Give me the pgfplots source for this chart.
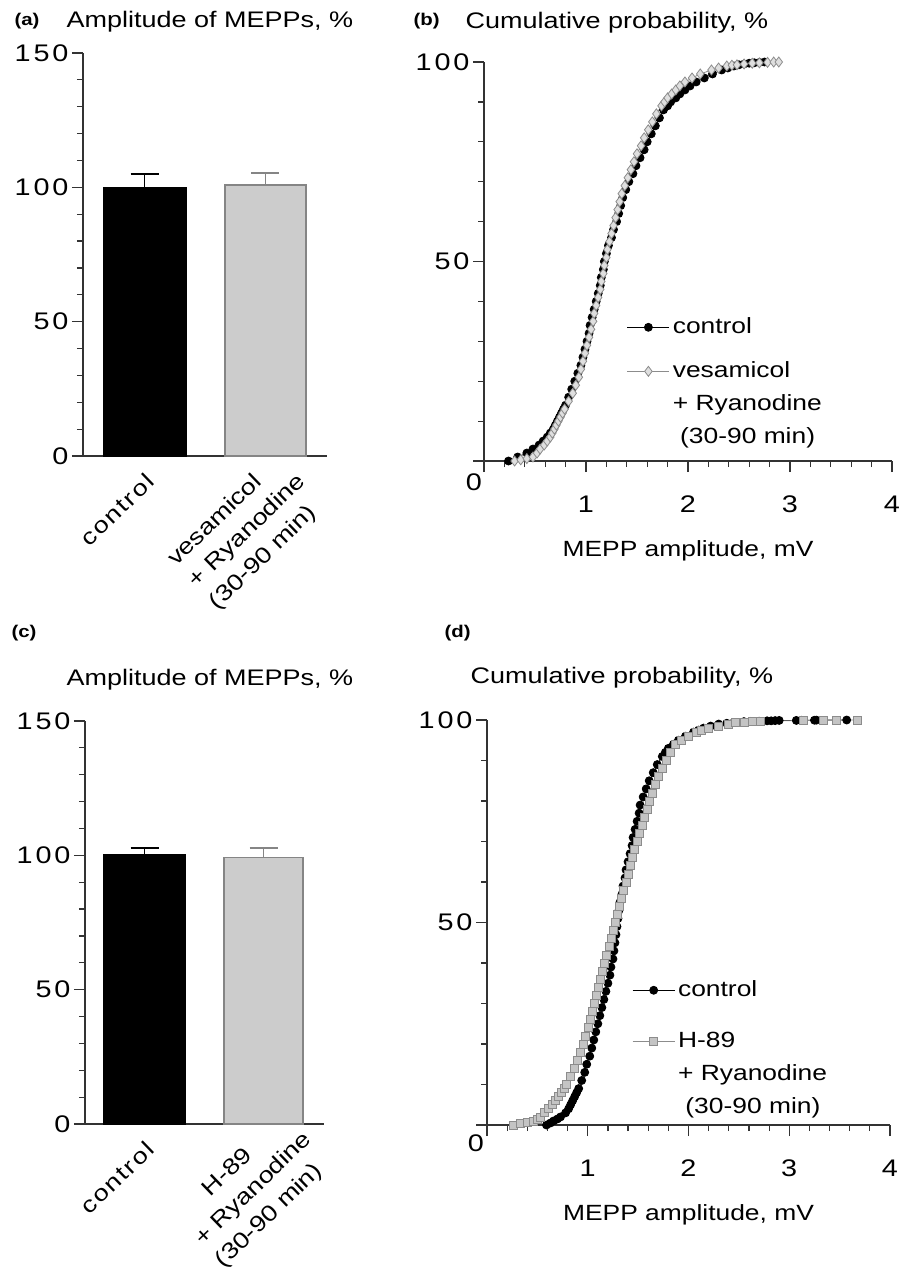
\documentclass[border=0pt]{standalone}
\usepackage{fontspec}
\setmainfont{Liberation Sans}[FakeStretch=1.2]
\newfontfamily\tickfont{Liberation Sans}[FakeStretch=1.2,LetterSpace=12]
\newfontfamily\catfont{Liberation Sans}[FakeStretch=1.2,LetterSpace=8]
\usepackage{pgfplots}
\pgfplotsset{compat=1.18}
\definecolor{barfill}{HTML}{CCCCCC}
\definecolor{baredge}{HTML}{858585}
\definecolor{axiscol}{HTML}{333333}
\definecolor{grayline}{HTML}{8C8C8C}
\definecolor{markfill}{HTML}{C4C4C4}

\pgfplotsset{
  panel/.style={
    scale only axis, axis lines*=left, clip=false,
    axis line style={axiscol, line width=1.3pt},
    tick align=outside, major tick length=11pt, minor tick length=6pt,
    every tick/.style={axiscol, line width=1.2pt},
    /pgf/number format/assume math mode=true,
    ticklabel style={font=\tickfont\fontsize{24}{26}\selectfont},
  },
  barpanel/.style={
    panel, ymin=0, ymax=150, ytick={0,50,100,150}, minor y tick num=4,
    xtick={0}, xticklabels={{\catfont control}}, xtick style={draw=none},
    xticklabel style={rotate=44, anchor=north east, align=left,
      font=\fontsize{22.5}{30}\selectfont},
    extra x ticks={1},
    extra x tick style={tick style={draw=none}},
  },
  cdfpanel/.style={
    panel, xmin=0, xmax=4, ymin=0, ymax=100,
    xtick={0,1,2,3,4}, xticklabels={,1,2,3,4}, minor x tick num=4,
    xticklabel style={yshift=-20pt},
    ytick={0,50,100}, yticklabels={,50,100}, minor y tick num=4,
    xlabel={MEPP amplitude, mV},
    xlabel style={font=\fontsize{22}{26}\selectfont, yshift=-21pt},
    legend cell align=left,
    legend style={draw=none, fill=none, inner sep=0pt, row sep=6pt,
      font=\fontsize{22}{26}\selectfont,
      nodes={inner xsep=3pt, inner ysep=2.5pt, text height=17pt, text depth=5pt}},
    legend image code/.code={
      \draw[mark repeat=2, mark phase=2, #1]
        plot coordinates {(0pt,0pt) (21pt,0pt) (42pt,0pt)};},
  },
  ctrl/.style={black, line width=0.8pt, mark=*, mark size=4pt,
    mark options={fill=black, draw=black}},
  gdia/.style={grayline, line width=0.8pt, mark=diamond*, mark size=5pt,
    mark options={fill=markfill!55!white, draw=grayline}},
  gsq/.style={grayline, line width=0.8pt, mark=square*, mark size=4pt,
    mark options={fill=markfill, draw=grayline}},
}

\begin{document}
\begin{tikzpicture}
\useasboundingbox (0pt,0pt) rectangle (912pt,-1274pt);

% ---------- (a) ----------
\node[anchor=west, font=\bfseries\fontsize{17}{20}\selectfont] at (11pt,-21pt) {(a)};
\node[anchor=west, font=\fontsize{22.5}{26}\selectfont] at (63pt,-22pt) {Amplitude of MEPPs, \%};
\begin{axis}[barpanel, at={(83pt,-456pt)}, anchor=south west,
  width=244pt, height=403pt, xmin=-0.51, xmax=1.51,
  extra x tick labels={{vesamicol\\\rlap{+ Ryanodine}\\\rlap{(30-90 min)}}},
  extra x tick style={xticklabel style={xshift=-10pt, yshift=10pt}}]
\addplot[ybar, bar width=83pt, bar shift=0pt, fill=black, draw=black, line width=1.2pt,
  error bars/.cd, y dir=plus, y explicit,
  error bar style={black, line width=1.5pt},
  error mark options={rotate=90, mark size=14pt, black, line width=1.5pt}]
  coordinates {(0,100) +- (0,5)};
\addplot[ybar, bar width=81pt, bar shift=0pt, fill=barfill, draw=baredge, line width=1.8pt,
  error bars/.cd, y dir=plus, y explicit,
  error bar style={baredge, line width=1.5pt},
  error mark options={rotate=90, mark size=14pt, baredge, line width=1.5pt}]
  coordinates {(1,101) +- (0,4.4)};
\end{axis}

% ---------- (b) ----------
\node[anchor=west, font=\bfseries\fontsize{17}{20}\selectfont] at (410pt,-21pt) {(b)};
\node[anchor=west, font=\fontsize{22.5}{26}\selectfont] at (462pt,-23pt) {Cumulative probability, \%};
\node[font=\tickfont\fontsize{24}{26}\selectfont] at (474pt,-482pt) {0};
\begin{axis}[cdfpanel, at={(484pt,-461pt)}, anchor=south west,
  width=408pt, height=399pt,
  legend style={at={(0.35,0.397)}, anchor=north west}]
\addplot[ctrl] coordinates {
(0.24,0) (0.33,1) (0.42,2) (0.48,3) (0.54,4) (0.58,5) (0.62,6) (0.65,7) (0.68,8)
(0.70,9) (0.72,10) (0.74,11) (0.76,12) (0.78,13) (0.80,14) (0.83,16) (0.86,18)
(0.89,20) (0.92,22) (0.95,24) (0.97,26) (0.99,28) (1.01,30) (1.03,32) (1.04,34)
(1.06,36) (1.08,38) (1.10,40) (1.12,42) (1.14,44) (1.15,46) (1.17,48) (1.18,50)
(1.20,52) (1.22,54) (1.25,56) (1.27,58) (1.30,60) (1.32,62) (1.34,64) (1.36,66)
(1.39,68) (1.42,70) (1.46,72) (1.49,74) (1.53,76) (1.57,78) (1.60,80) (1.64,82)
(1.68,84) (1.72,86) (1.76,88) (1.80,89) (1.83,90) (1.88,91) (1.92,92) (1.97,93)
(2.02,94) (2.08,95) (2.16,96) (2.24,97) (2.33,98) (2.39,98.5) (2.45,99)
(2.50,99.3) (2.55,99.5) (2.60,99.7) (2.65,99.8) (2.70,99.9) (2.75,100)};
\addlegendentry[text height=28pt, text depth=16pt]{control}
\addplot[gdia] coordinates {
(0.30,0) (0.36,0.3) (0.42,0.6) (0.48,1) (0.52,2) (0.55,3) (0.59,4) (0.62,5)
(0.65,6) (0.67,7) (0.69,8) (0.71,9) (0.73,10) (0.75,11) (0.77,12) (0.79,13)
(0.83,15) (0.87,17) (0.90,19) (0.93,21) (0.95,23) (0.97,25) (0.99,27) (1.01,29)
(1.03,31) (1.05,33) (1.07,35) (1.08,37) (1.10,39) (1.12,41) (1.14,43) (1.15,45)
(1.17,47) (1.18,49) (1.20,51) (1.21,53) (1.23,55) (1.25,57) (1.27,59) (1.29,61)
(1.31,63) (1.33,65) (1.35,67) (1.38,69) (1.41,71) (1.44,73) (1.47,75) (1.50,77)
(1.54,79) (1.57,81) (1.61,83) (1.65,85) (1.69,87) (1.74,89) (1.77,90) (1.80,91)
(1.84,92) (1.88,93) (1.92,94) (1.97,95) (2.04,96) (2.12,97) (2.23,98) (2.30,98.5)
(2.38,99) (2.43,99.2) (2.48,99.3) (2.55,99.5) (2.63,99.7) (2.70,99.8)
(2.78,99.9) (2.84,100) (2.89,100)};
\addlegendentry{vesamicol}
\addlegendimage{empty legend}
\addlegendentry{+ Ryanodine}
\addlegendimage{empty legend}
\addlegendentry{\ (30-90 min)}
\end{axis}

% ---------- (c) ----------
\node[anchor=west, font=\bfseries\fontsize{17}{20}\selectfont] at (8pt,-633pt) {(c)};
\node[anchor=west, font=\fontsize{22.5}{26}\selectfont] at (63pt,-680pt) {Amplitude of MEPPs, \%};
\begin{axis}[barpanel, at={(85pt,-1124pt)}, anchor=south west,
  width=239pt, height=403pt, xmin=-0.5, xmax=1.508,
  extra x tick labels={{\hspace*{40pt}H-89\\\rlap{+ Ryanodine}\\\rlap{(30-90 min)}}},
  extra x tick style={xticklabel style={xshift=-19pt, yshift=11pt}}]
\addplot[ybar, bar width=81pt, bar shift=0pt, fill=black, draw=black, line width=1.2pt,
  error bars/.cd, y dir=plus, y explicit,
  error bar style={black, line width=1.5pt},
  error mark options={rotate=90, mark size=14pt, black, line width=1.5pt}]
  coordinates {(0,100.3) +- (0,2.5)};
\addplot[ybar, bar width=79pt, bar shift=0pt, fill=barfill, draw=baredge, line width=1.8pt,
  error bars/.cd, y dir=plus, y explicit,
  error bar style={baredge, line width=1.5pt},
  error mark options={rotate=90, mark size=14pt, baredge, line width=1.5pt}]
  coordinates {(1,99.2) +- (0,3.6)};
\end{axis}

% ---------- (d) ----------
\node[anchor=west, font=\bfseries\fontsize{17}{20}\selectfont] at (441pt,-633pt) {(d)};
\node[anchor=west, font=\fontsize{22.5}{26}\selectfont] at (467pt,-678pt) {Cumulative probability, \%};
\node[font=\tickfont\fontsize{24}{26}\selectfont] at (476pt,-1143pt) {0};
\begin{axis}[cdfpanel, at={(487pt,-1125pt)}, anchor=south west,
  width=403pt, height=405pt,
  legend style={at={(0.36,0.411)}, anchor=north west}]
\addplot[ctrl] coordinates {
(0.59,0) (0.63,0.5) (0.66,1) (0.70,1.5) (0.73,2) (0.78,3) (0.81,4) (0.83,5)
(0.85,6) (0.87,7) (0.89,8) (0.91,9) (0.94,11) (0.97,13) (0.99,15) (1.02,17)
(1.04,19) (1.06,21) (1.08,23) (1.10,25) (1.12,27) (1.14,29) (1.16,31) (1.18,33)
(1.20,35) (1.22,37) (1.23,39) (1.25,41) (1.26,43) (1.27,45) (1.28,47) (1.29,49)
(1.30,51) (1.31,53) (1.32,55) (1.34,57) (1.35,59) (1.37,61) (1.38,63) (1.40,65)
(1.42,67) (1.44,69) (1.45,71) (1.47,73) (1.49,75) (1.51,77) (1.52,79) (1.55,81)
(1.58,83) (1.61,85) (1.65,87) (1.69,89) (1.74,91) (1.77,92) (1.80,93) (1.85,94)
(1.90,95) (1.97,96) (2.05,97) (2.10,97.5) (2.15,98) (2.22,98.5) (2.30,99)
(2.38,99.2) (2.45,99.4) (2.55,99.6) (2.62,99.65) (2.70,99.7) (2.78,99.8)
(2.82,99.8) (2.86,99.85) (2.90,99.9) (3.07,99.9) (3.12,99.93) (3.25,99.95)
(3.27,99.97) (3.57,100)};
\addlegendentry[text height=35pt, text depth=23pt]{control}
\addplot[gsq] coordinates {
(0.26,0) (0.33,0.3) (0.40,0.6) (0.46,1) (0.50,1.5) (0.53,2) (0.57,3) (0.61,4)
(0.65,5) (0.68,6) (0.71,7) (0.74,8) (0.77,9) (0.79,10) (0.83,12) (0.87,14)
(0.90,16) (0.93,18) (0.96,20) (0.98,22) (1.01,24) (1.03,26) (1.05,28) (1.07,30)
(1.09,32) (1.11,34) (1.13,36) (1.15,38) (1.17,40) (1.19,42) (1.21,44) (1.23,46)
(1.25,48) (1.27,50) (1.29,52) (1.31,54) (1.33,56) (1.35,58) (1.38,60) (1.40,62)
(1.42,64) (1.44,66) (1.46,68) (1.49,70) (1.51,72) (1.54,74) (1.56,76) (1.59,78)
(1.61,80) (1.64,82) (1.67,84) (1.70,86) (1.74,88) (1.78,90) (1.82,92) (1.87,94)
(1.93,95) (2.00,96) (2.08,97) (2.13,97.5) (2.20,98) (2.30,98.5) (2.40,99)
(2.47,99.3) (2.55,99.5) (2.63,99.6) (2.71,99.7) (3.14,99.9) (3.34,99.95)
(3.47,99.97) (3.68,100)};
\addlegendentry{H-89}
\addlegendimage{empty legend}
\addlegendentry{+ Ryanodine}
\addlegendimage{empty legend}
\addlegendentry{\ (30-90 min)}
\end{axis}
\end{tikzpicture}
\end{document}
